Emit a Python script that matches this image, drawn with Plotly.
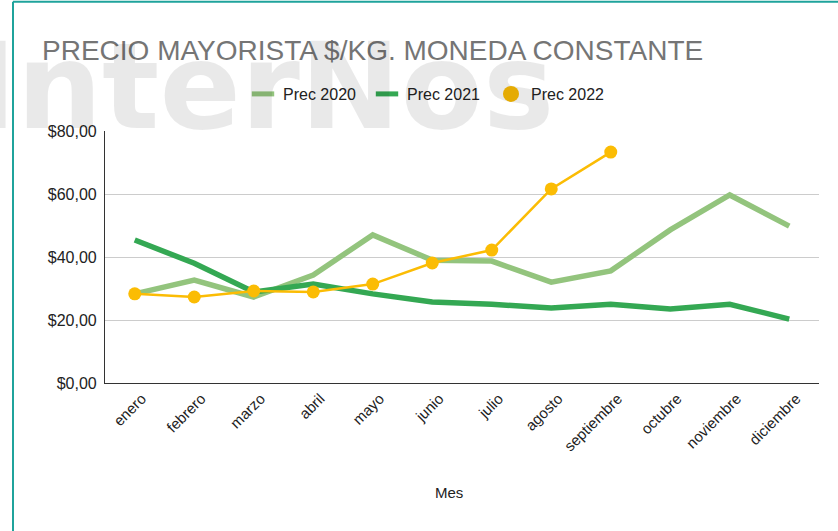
import plotly.graph_objects as go

meses = ["enero", "febrero", "marzo", "abril", "mayo", "junio", "julio",
         "agosto", "septiembre", "octubre", "noviembre", "diciembre"]
prec_2020 = [28.3, 32.7, 27.3, 34.3, 47.0, 39.0, 38.7, 32.0, 35.6, 48.6, 59.7, 49.8]
prec_2021 = [45.4, 38.0, 28.9, 31.4, 28.3, 25.7, 25.0, 23.8, 25.0, 23.5, 25.0, 20.3]
prec_2022 = [28.3, 27.3, 29.2, 28.9, 31.4, 38.1, 42.2, 61.6, 73.3]
y_tickvals = [0, 20, 40, 60, 80]
y_ticktext = ["$0,00", "$20,00", "$40,00", "$60,00", "$80,00"]
series_names = ["Prec 2020", "Prec 2021", "Prec 2022"]

C2020 = "#93c47d"
C2021 = "#34a853"
C2022 = "#fbbc04"
FONT = "Liberation Sans, Arial, sans-serif"

W, H = 838, 531
ML, MR, MT, MB = 105, 19, 131, 148
PW, PH = W - ML - MR, H - MT - MB


def px_x(p):
    return (p - ML) / PW


def px_y(p):
    return (H - MB - p) / PH


fig = go.Figure()
fig.add_trace(go.Scatter(x=meses, y=prec_2020, mode="lines", name=series_names[0],
                         line=dict(color=C2020, width=5.5), showlegend=False))
fig.add_trace(go.Scatter(x=meses, y=prec_2021, mode="lines", name=series_names[1],
                         line=dict(color=C2021, width=5.5), showlegend=False))
fig.add_trace(go.Scatter(x=meses[:len(prec_2022)], y=prec_2022, mode="lines+markers",
                         name=series_names[2], line=dict(color=C2022, width=2.5),
                         marker=dict(color=C2022, size=13), showlegend=False))

# legend entries
fig.add_trace(go.Scatter(x=[None], y=[None], mode="markers", name=series_names[0],
                         marker=dict(symbol="line-ew", size=16,
                                     line=dict(color=C2020, width=5))))
fig.add_trace(go.Scatter(x=[None], y=[None], mode="markers", name=series_names[1],
                         marker=dict(symbol="line-ew", size=16,
                                     line=dict(color=C2021, width=5))))
fig.add_trace(go.Scatter(x=[None], y=[None], mode="markers", name=series_names[2],
                         marker=dict(symbol="circle", size=16, color=C2022)))

fig.update_layout(
    width=W, height=H,
    margin=dict(l=ML, r=MR, t=MT, b=MB, autoexpand=False),
    paper_bgcolor="white", plot_bgcolor="white",
    font=dict(family=FONT, color="#222222"),
    title=dict(text="PRECIO MAYORISTA $/KG. MONEDA CONSTANTE",
               font=dict(family=FONT, size=28, color="#757575"),
               x=42 / W, xanchor="left", xref="container",
               y=1 - 50 / H, yanchor="middle", yref="container"),
    legend=dict(orientation="h", x=px_x(243), xanchor="left",
                y=px_y(94), yanchor="middle",
                font=dict(family=FONT, size=16, color="#222222"),
                bgcolor="rgba(0,0,0,0)", entrywidth=79, entrywidthmode="pixels"),
    xaxis=dict(type="category", categoryorder="array", categoryarray=meses,
               range=[-0.5, len(meses) - 0.5], showgrid=False,
               showline=True, linecolor="#333333", linewidth=1.2,
               tickangle=-45, tickfont=dict(family=FONT, size=15, color="#222222"),
               ticklabelshift=7, fixedrange=True),
    yaxis=dict(range=[0, 80], tickvals=y_tickvals, ticktext=y_ticktext,
               showgrid=True, gridcolor="#cccccc", gridwidth=1,
               zeroline=False, showline=True, linecolor="#333333", linewidth=1.2,
               tickfont=dict(family=FONT, size=16, color="#222222"),
               ticklabelstandoff=4, fixedrange=True),
    showlegend=True,
)

# axis title
fig.add_annotation(text="Mes", x=px_x(449), y=px_y(492), xref="paper", yref="paper",
                   showarrow=False, font=dict(family=FONT, size=15, color="#222222"),
                   xanchor="center", yanchor="middle")

# watermark
fig.add_annotation(text="<b>InterNos</b>", x=px_x(-30), y=px_y(86), xref="paper", yref="paper",
                   showarrow=False,
                   font=dict(family="DejaVu Sans, sans-serif", size=120, color="rgba(0,0,0,0.085)"),
                   xanchor="left", yanchor="middle")

# frame lines
fig.add_shape(type="line", xref="paper", yref="paper",
              x0=px_x(13), x1=px_x(W + 5), y0=px_y(1.7), y1=px_y(1.7),
              line=dict(color="#1fa39c", width=2))
fig.add_shape(type="line", xref="paper", yref="paper",
              x0=px_x(13), x1=px_x(13), y0=px_y(1.7), y1=px_y(H + 5),
              line=dict(color="#1fa39c", width=2))

fig.write_html("out.html", config={"displayModeBar": False},
               post_script="document.body.style.margin='0';")
